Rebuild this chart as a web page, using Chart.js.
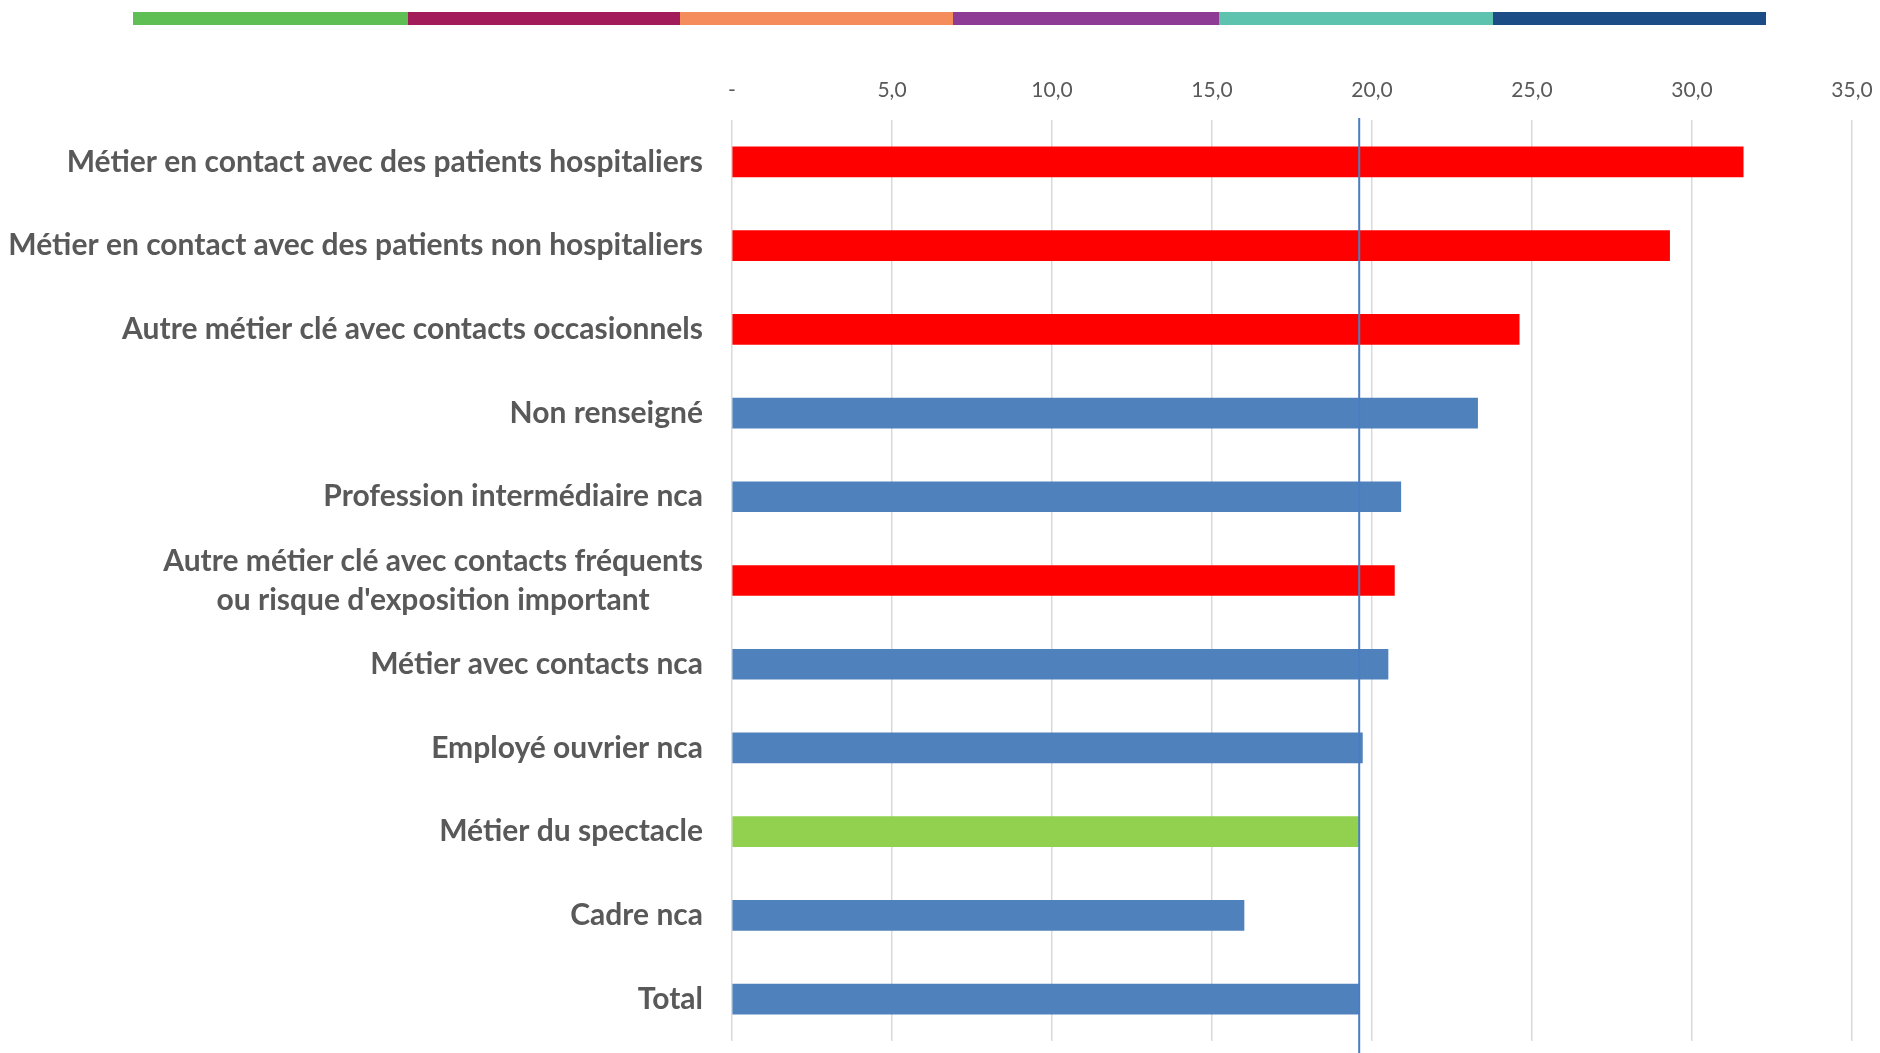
<!DOCTYPE html>
<html>
<head>
<meta charset="utf-8">
<script src="https://cdn.jsdelivr.net/npm/chart.js@4/dist/chart.umd.min.js"></script>
<style>
  html, body { margin: 0; padding: 0; background: #fff; }
  #wrap { position: relative; width: 1880px; height: 1053px; }
  #strip { position: absolute; left: 133px; top: 12px; width: 1633px; height: 13px; display: flex; }
  #strip div { height: 100%; }
</style>
</head>
<body>
<div id="wrap">
  <canvas id="chart" width="1880" height="1053"></canvas>
  <div id="strip"></div>
</div>
<script>
// DATA
const categories = [
  "Métier en contact avec des patients hospitaliers",
  "Métier en contact avec des patients non hospitaliers",
  "Autre métier clé avec contacts occasionnels",
  "Non renseigné",
  "Profession intermédiaire nca",
  ["Autre métier clé avec contacts fréquents", "ou risque d'exposition important"],
  "Métier avec contacts nca",
  "Employé ouvrier nca",
  "Métier du spectacle",
  "Cadre nca",
  "Total"
];
const values = [31.6, 29.3, 24.6, 23.3, 20.9, 20.7, 20.5, 19.7, 19.6, 16.0, 19.6];
const groups = ["contact", "contact", "contact", "autre", "autre", "contact", "autre", "autre", "spectacle", "autre", "autre"];
const totalValue = 19.6;
const xTicks = [0, 5, 10, 15, 20, 25, 30, 35];

// styles
const groupColors = { contact: "#FF0000", autre: "#4F81BD", spectacle: "#92D050" };
const stripColors = ["#5FBF54", "#A21C5A", "#F58C5C", "#8E3B96", "#5EC3AE", "#1C4C85"];
const stripWidths = [275, 272, 273, 266, 274, 273];
const textColor = "#595959";
const labelFont = "bold 30px Lato, 'Open Sans', sans-serif";

// top colour strip
const strip = document.getElementById("strip");
stripColors.forEach((c, i) => {
  const d = document.createElement("div");
  d.style.background = c;
  d.style.width = stripWidths[i] + "px";
  strip.appendChild(d);
});

// category labels (centered lines, block right aligned)
const labelPlugin = {
  id: "labels",
  afterDraw(chart) {
    const ctx = chart.ctx;
    const y = chart.scales.y;
    const right = y.right - 29;
    ctx.save();
    ctx.font = labelFont;
    ctx.fillStyle = textColor;
    ctx.textAlign = "center";
    ctx.textBaseline = "middle";
    categories.forEach((lab, i) => {
      const lines = Array.isArray(lab) ? lab : [lab];
      const w = Math.max(...lines.map(l => ctx.measureText(l).width));
      const cy = y.getPixelForTick(i);
      lines.forEach((l, j) => {
        ctx.fillText(l, right - w / 2, cy + (j - (lines.length - 1) / 2) * 39);
      });
    });
    ctx.restore();
  }
};

// vertical line at total
const totalLine = {
  id: "totalLine",
  afterDatasetsDraw(chart) {
    const ctx = chart.ctx;
    const x = chart.scales.x.getPixelForValue(totalValue);
    ctx.save();
    ctx.strokeStyle = "#4A7EC2";
    ctx.lineWidth = 2;
    ctx.beginPath();
    ctx.moveTo(x, chart.chartArea.top - 2);
    ctx.lineTo(x, chart.height);
    ctx.stroke();
    ctx.restore();
  }
};

new Chart(document.getElementById("chart"), {
  type: "bar",
  data: {
    labels: categories,
    datasets: [{
      data: values,
      backgroundColor: groups.map(g => groupColors[g]),
      barThickness: 30
    }]
  },
  options: {
    indexAxis: "y",
    responsive: false,
    animation: false,
    layout: { padding: { top: 0, right: 28, bottom: 12, left: 0 } },
    plugins: { legend: { display: false }, tooltip: { enabled: false } },
    scales: {
      x: {
        position: "top",
        min: 0,
        max: 35,
        afterBuildTicks: s => { s.ticks = xTicks.map(v => ({ value: v })); },
        afterFit: s => { s.height = 120; s.paddingLeft = 0; s.paddingRight = 0; },
        border: { display: false },
        grid: { color: "#D9D9D9", lineWidth: 1.5, drawTicks: false },
        ticks: {
          color: textColor,
          padding: 17,
          maxRotation: 0,
          font: { family: "Lato, 'Open Sans', sans-serif", size: 21 },
          callback: v => v === 0 ? "-" : v.toFixed(1).replace(".", ",")
        }
      },
      y: {
        afterFit: s => { s.width = 732; },
        border: { display: false },
        grid: { display: false },
        ticks: { display: false }
      }
    }
  },
  plugins: [labelPlugin, totalLine]
});
</script>
</body>
</html>
